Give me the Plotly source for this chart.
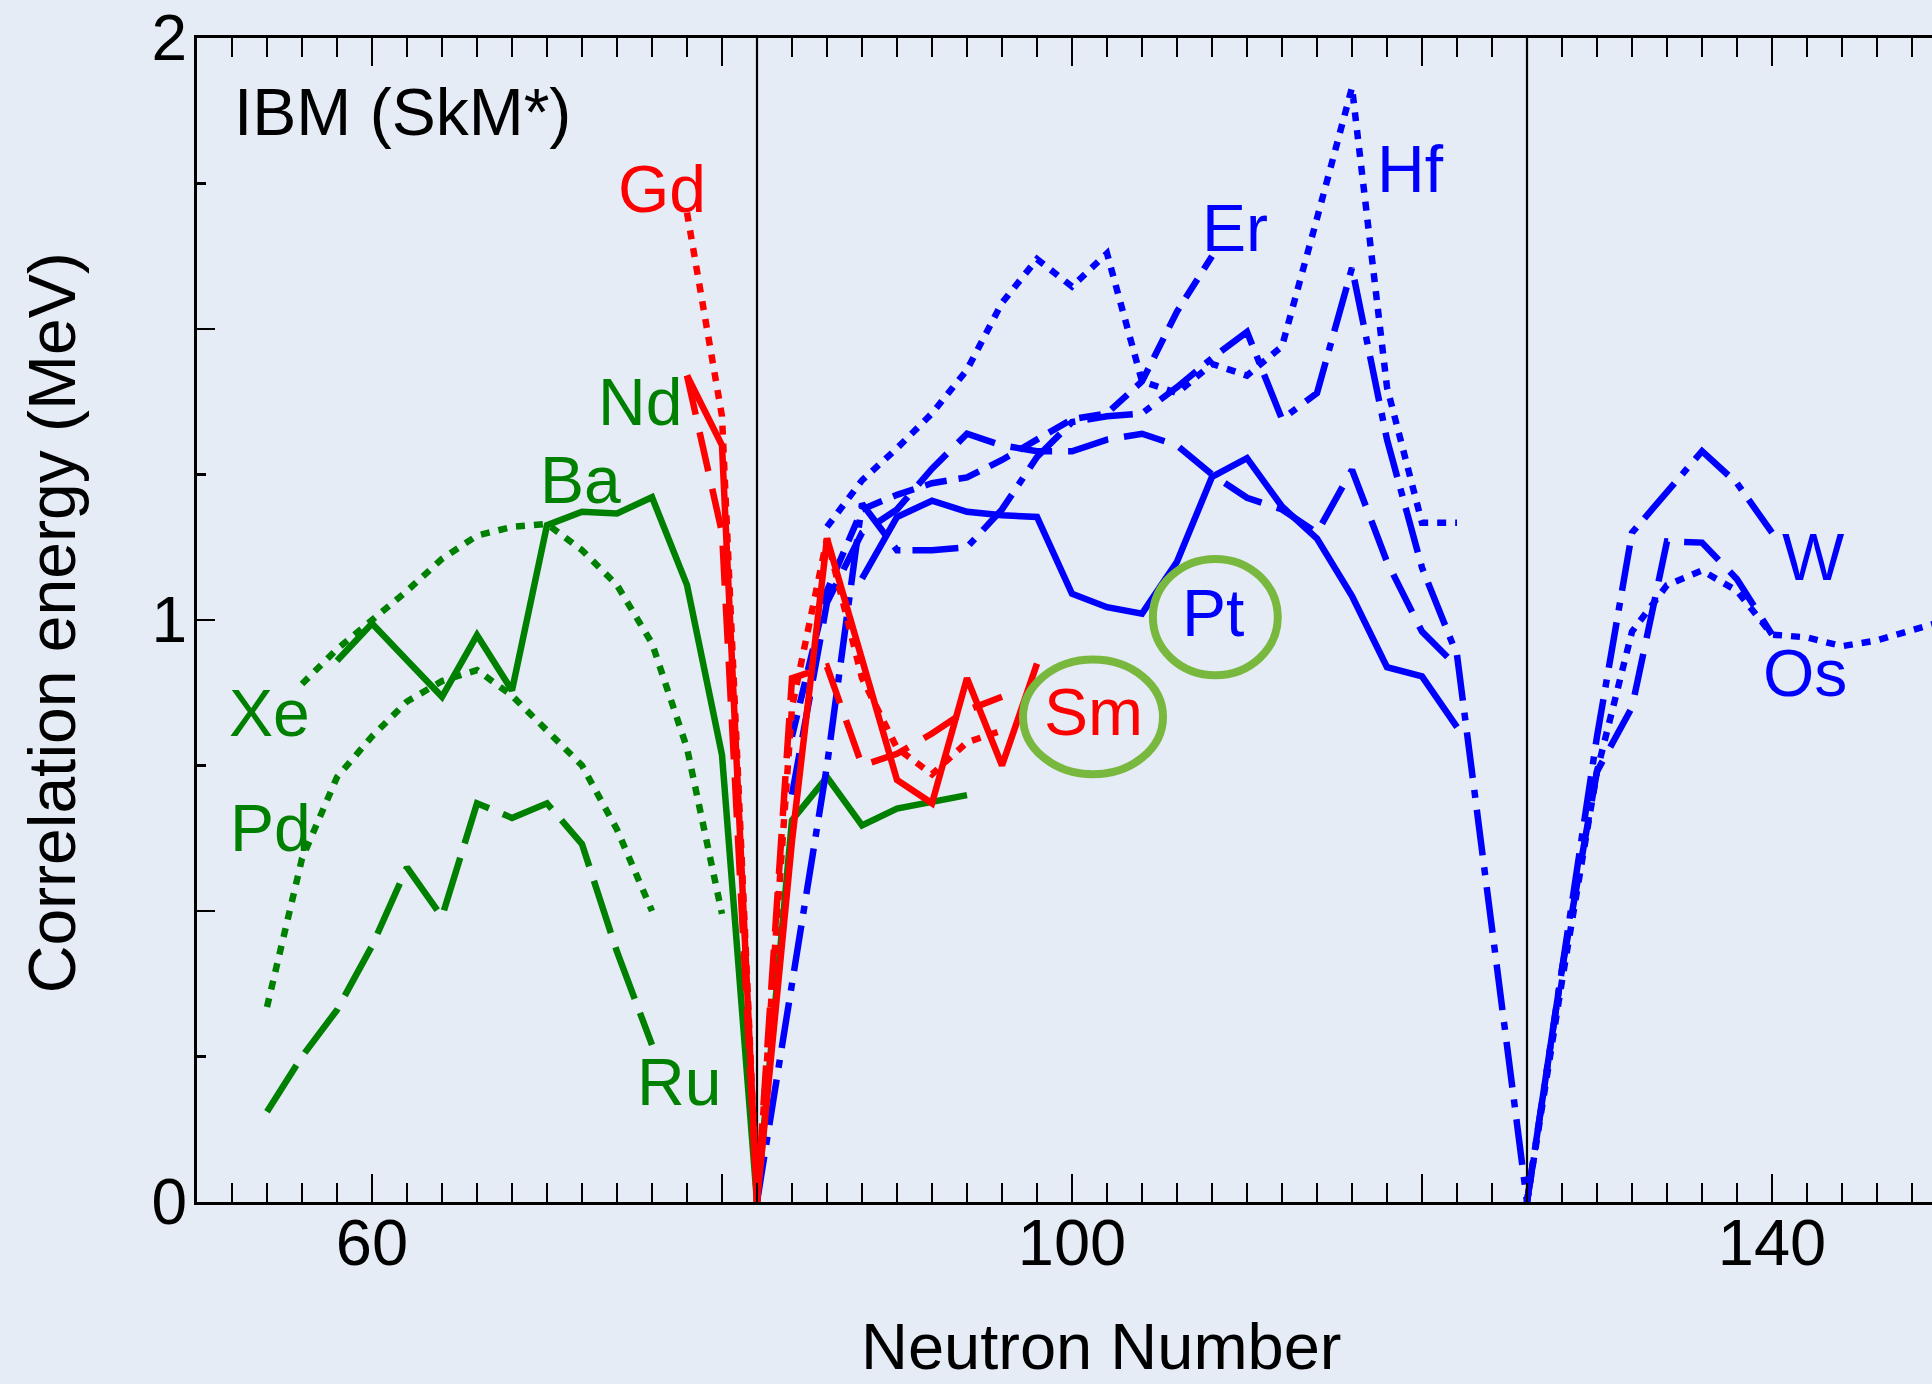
import plotly.graph_objects as go

GREEN = "#008000"
RED = "#ff0000"
BLUE = "#0000ff"
CIRCLE = "#79b83f"
BG = "#e5ecf5"
FONT = "Liberation Sans, Arial, Helvetica, sans-serif"

# ---------------- data (neutron number, correlation energy in MeV) ----------------
Xe_N = [56, 58, 60, 62, 64, 66, 68, 70, 72, 74, 76, 78, 80]
Xe_E = [0.89, 0.95, 1.00, 1.05, 1.105, 1.145, 1.16, 1.165, 1.12, 1.06, 0.96, 0.78, 0.495]

Pd_N = [54, 56, 58, 60, 62, 64, 66, 68, 70, 72, 74, 76]
Pd_E = [0.335, 0.59, 0.73, 0.80, 0.86, 0.895, 0.914, 0.87, 0.81, 0.75, 0.64, 0.50]

Ru_N = [54, 56, 58, 60, 62, 64, 66, 68, 70, 72, 74, 76]
Ru_E = [0.155, 0.25, 0.33, 0.44, 0.575, 0.49, 0.685, 0.66, 0.685, 0.615, 0.43, 0.27]

Ba_N = [58, 60, 62, 64, 66, 68, 70, 72, 74, 76, 78, 80, 82]
Ba_E = [0.93, 0.994, 0.931, 0.868, 0.974, 0.879, 1.163, 1.186, 1.183, 1.211, 1.06, 0.768, 0.0]

Ce_N = [82, 84, 86, 88, 90, 92, 94]
Ce_E = [0.0, 0.656, 0.73, 0.647, 0.676, 0.687, 0.699]

Gd_N = [78, 80, 82, 84, 86, 88, 90, 92, 94, 96]
Gd_E = [1.70, 1.35, 0.0, 0.85, 1.14, 0.90, 0.78, 0.735, 0.79, 0.81]

Sm_N = [78, 80, 82, 84, 86, 88, 90, 92, 94, 96, 98]
Sm_E = [1.42, 1.30, 0.0, 0.62, 1.14, 0.93, 0.725, 0.685, 0.90, 0.75, 0.925]

Nd_N = [78, 80, 82, 84, 86, 88, 90, 92, 94, 96]
Nd_E = [1.42, 1.15, 0.0, 0.90, 0.92, 0.75, 0.77, 0.805, 0.845, 0.868]

Pt_N = [88, 90, 92, 94, 96, 98, 100, 102, 104, 106, 108, 110, 112, 114, 116, 118, 120, 122]
Pt_E = [1.071, 1.177, 1.205, 1.186, 1.18, 1.177, 1.045, 1.022, 1.011, 1.10, 1.246, 1.278,
        1.195, 1.14, 1.041, 0.919, 0.903, 0.816]

Hf_N = [86, 88, 90, 92, 94, 96, 98, 100, 102, 104, 106, 108, 110, 112, 114, 116, 118, 120, 122]
Hf_E = [1.16, 1.24, 1.295, 1.355, 1.43, 1.545, 1.62, 1.573, 1.63, 1.41, 1.39, 1.44, 1.42,
        1.47, 1.69, 1.915, 1.40, 1.167, 1.167]

Er_N = [84, 86, 88, 90, 92, 94, 96, 98, 100, 102, 104, 106, 108]
Er_E = [0.80, 1.05, 1.19, 1.215, 1.235, 1.245, 1.275, 1.31, 1.345, 1.355, 1.41, 1.53, 1.625]

W_N = [82, 84, 86, 88, 90, 92, 94, 96, 98, 100, 102, 104, 106, 108, 110, 112, 114, 116, 118,
       120, 122, 124, 126, 128, 130, 132, 134, 136, 138, 140]
W_E = [0.0, 0.38, 0.75, 1.20, 1.12, 1.12, 1.125, 1.19, 1.28, 1.34, 1.35, 1.355, 1.40, 1.45,
       1.495, 1.345, 1.39, 1.605, 1.31, 1.09, 0.94, 0.47, 0.0, 0.40, 0.80, 1.15, 1.22, 1.29,
       1.235, 1.15]

Yb_N = [84, 86, 88, 90, 92, 94, 96, 98, 100, 102, 104, 106, 108, 110, 112, 114, 116, 118, 120, 122]
Yb_E = [0.70, 1.03, 1.15, 1.19, 1.26, 1.32, 1.30, 1.29, 1.29, 1.31, 1.32, 1.30, 1.25, 1.21,
        1.19, 1.15, 1.258, 1.10, 0.98, 0.92]

Os_N = [126, 128, 130, 132, 134, 136, 138, 140, 142, 144, 146, 148, 150]
Os_E = [0.0, 0.38, 0.74, 0.98, 1.06, 1.085, 1.05, 0.975, 0.97, 0.955, 0.965, 0.982, 1.0]

Hg_N = [126, 128, 130, 132, 134, 136, 138, 140]
Hg_E = [0.0, 0.40, 0.74, 0.85, 1.135, 1.133, 1.07, 0.975]

X_TICKS = [60, 80, 100, 120, 140]
X_TICK_TEXT = ["60", "", "100", "", "140"]
Y_TICKS = [0, 0.5, 1, 1.5, 2]
Y_TICK_TEXT = ["0", "", "1", "", "2"]

# labels: text, colour, (N, E) position
LABELS = [
    ("Gd", RED, 76.55, 1.740),
    ("Nd", GREEN, 75.33, 1.374),
    ("Ba", GREEN, 71.92, 1.240),
    ("Xe", GREEN, 54.13, 0.8406),
    ("Pd", GREEN, 54.18, 0.642),
    ("Ru", GREEN, 77.55, 0.207),
    ("Sm", RED, 101.24, 0.8414),
    ("Pt", BLUE, 108.07, 1.0116),
    ("Er", BLUE, 109.30, 1.674),
    ("Hf", BLUE, 119.33, 1.775),
    ("W", BLUE, 142.35, 1.108),
    ("Os", BLUE, 141.90, 0.9085),
]

# dash patterns
DOT = "9px,9px"
DASH = "22px,12px"
LONG = "42px,16px"
LONG_G = "55px,15px"
LONG_R = "40px,18px"
DASHDOT = "46px,12px,8px,12px"
LW = 6.5

fig = go.Figure()


def add(N, E, color, dash, name):
    fig.add_trace(go.Scatter(x=N, y=E, mode="lines", name=name, showlegend=False,
                             hoverinfo="skip",
                             line=dict(color=color, width=LW, dash=dash)))


add(Ru_N, Ru_E, GREEN, LONG_G, "Ru")
add(Pd_N, Pd_E, GREEN, DOT, "Pd")
add(Xe_N, Xe_E, GREEN, DOT, "Xe")
add(Ba_N, Ba_E, GREEN, "solid", "Ba")
add(Ce_N, Ce_E, GREEN, "solid", "Ce")
add(W_N, W_E, BLUE, DASHDOT, "W")
add(Yb_N, Yb_E, BLUE, LONG, "Yb")
add(Er_N, Er_E, BLUE, DASH, "Er")
add(Hf_N, Hf_E, BLUE, DOT, "Hf")
add(Pt_N, Pt_E, BLUE, "solid", "Pt")
add(Os_N, Os_E, BLUE, DOT, "Os")
add(Hg_N, Hg_E, BLUE, LONG, "Hg")
add(Nd_N, Nd_E, RED, LONG_R, "Nd")
add(Gd_N, Gd_E, RED, DOT, "Gd")
add(Sm_N, Sm_E, RED, "solid", "Sm")

shapes = []
for xv in (82, 126):
    shapes.append(dict(type="line", xref="x", yref="y", x0=xv, x1=xv, y0=0, y1=2,
                       line=dict(color="black", width=2.2), layer="below"))
shapes.append(dict(type="circle", xref="x", yref="y", x0=97.2, x1=105.2, y0=0.735, y1=0.932,
                   line=dict(color=CIRCLE, width=8)))
shapes.append(dict(type="circle", xref="x", yref="y", x0=104.62, x1=111.76, y0=0.905, y1=1.105,
                   line=dict(color=CIRCLE, width=8)))

annotations = []
for txt, col, xv, yv in LABELS:
    annotations.append(dict(text=txt, x=xv, y=yv, xref="x", yref="y", showarrow=False,
                            xanchor="center", yanchor="middle",
                            font=dict(size=66, color=col, family=FONT)))
annotations.append(dict(text="IBM (SkM*)", x=52.0, y=1.873, xref="x", yref="y",
                        showarrow=False, xanchor="left", yanchor="middle",
                        font=dict(size=66, color="black", family=FONT)))
annotations.append(dict(text="Neutron Number", x=0.5216, y=-0.1245, xref="paper", yref="paper",
                        showarrow=False, xanchor="center", yanchor="middle",
                        font=dict(size=65, color="black", family=FONT)))
annotations.append(dict(text="Correlation energy (MeV)", x=-0.0836, y=0.498, xref="paper",
                        yref="paper", showarrow=False, xanchor="center", yanchor="middle",
                        textangle=-90, font=dict(size=66, color="black", family=FONT)))

fig.update_layout(
    width=1932, height=1384, autosize=False,
    margin=dict(l=197, r=0, t=38, b=182, pad=0),
    paper_bgcolor=BG, plot_bgcolor=BG,
    showlegend=False,
    font=dict(family=FONT, color="black"),
    shapes=shapes, annotations=annotations,
    xaxis=dict(range=[50, 149.143], showgrid=False, zeroline=False,
               showline=True, linecolor="black", linewidth=3, mirror="allticks",
               ticks="inside", tickmode="array", tickvals=X_TICKS, ticktext=X_TICK_TEXT,
               ticklen=28, tickwidth=2.5, tickcolor="black",
               tickfont=dict(size=65, family=FONT, color="black"),
               ticklabelstandoff=-18,
               minor=dict(ticks="inside", tickmode="linear", tick0=50, dtick=2,
                          ticklen=19, tickwidth=2.5, tickcolor="black", showgrid=False)),
    yaxis=dict(range=[0, 2], showgrid=False, zeroline=False,
               showline=True, linecolor="black", linewidth=3, mirror=False,
               ticks="inside", tickmode="array", tickvals=Y_TICKS, ticktext=Y_TICK_TEXT,
               ticklen=18, tickwidth=2.5, tickcolor="black",
               tickfont=dict(size=64, family=FONT, color="black"),
               ticklabelstandoff=-6,
               minor=dict(ticks="inside", tickmode="linear", tick0=0, dtick=0.25,
                          ticklen=9, tickwidth=2.5, tickcolor="black", showgrid=False)),
    yaxis2=dict(range=[0, 2], overlaying="y", side="right", showgrid=False, zeroline=False,
                showline=False, showticklabels=False, ticks="inside", tickmode="array",
                tickvals=[0.5, 1, 1.5], ticklen=5, tickwidth=2.5, tickcolor="black"),
)

PAGE_JS = ("document.body.style.margin='0';document.body.style.padding='0';"
           "document.body.style.overflow='hidden';"
           "document.body.style.background='" + BG + "';")

fig.write_html("out.html", post_script=PAGE_JS,
               config={"displayModeBar": False, "staticPlot": True})
